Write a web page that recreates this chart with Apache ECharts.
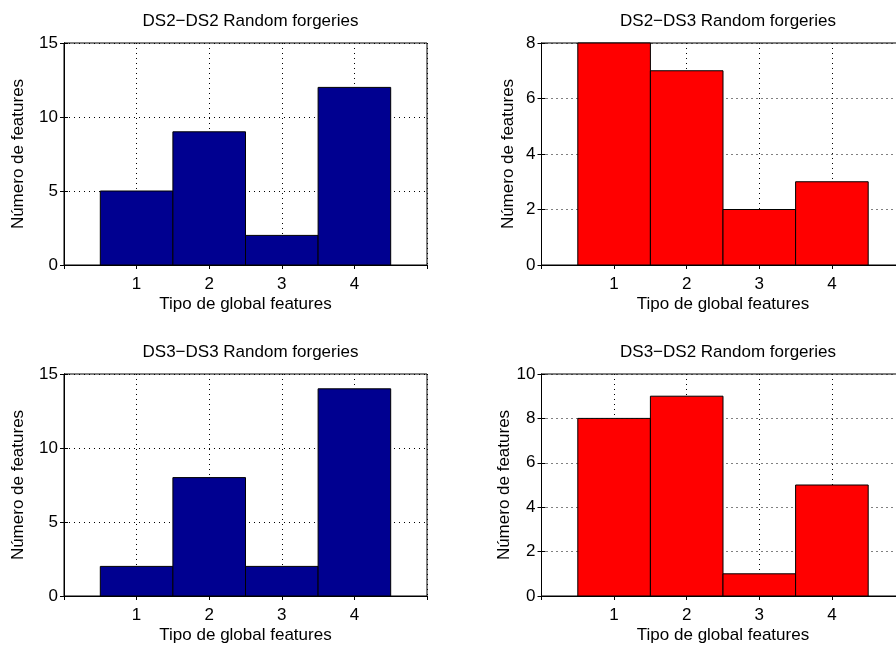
<!DOCTYPE html>
<html>
<head>
<meta charset="utf-8">
<script src="https://cdn.jsdelivr.net/npm/echarts@6/dist/echarts.min.js"></script>
<style>
  html, body { margin: 0; padding: 0; background: #fff; }
  #chart { width: 896px; height: 646px; }
</style>
</head>
<body>
<div id="chart"></div>
<script>
// tipo de global features (x)
var categories = [1, 2, 3, 4];

// número de features per panel
var ds2ds2 = [5, 9, 2, 12];
var ds2ds3 = [8, 7, 2, 3];
var ds3ds3 = [2, 8, 2, 14];
var ds3ds2 = [8, 9, 1, 5];

var titles = ['DS2\u2212DS2 Random forgeries', 'DS2\u2212DS3 Random forgeries',
              'DS3\u2212DS3 Random forgeries', 'DS3\u2212DS2 Random forgeries'];
var yMax = [15, 8, 15, 10];
var yStep = [5, 2, 5, 2];
var barColors = ['#000090', '#ff0000', '#000090', '#ff0000'];
var panelData = [ds2ds2, ds2ds3, ds3ds3, ds3ds2];

var FONT = 'Liberation Sans, Arial, Helvetica, sans-serif';
var FS = 17;
var boxes = [
  {left: 64, top: 43, nameGap: 37},
  {left: 541.5, top: 43, nameGap: 25},
  {left: 64, top: 374, nameGap: 37},
  {left: 541.5, top: 374, nameGap: 25}
];
var W = 363, H = 222;

var grid = [], xAxis = [], yAxis = [], series = [], title = [];

var dotted = {show: true, lineStyle: {color: '#000', type: [1, 4], width: 1}};

boxes.forEach(function (b, i) {
  grid.push({left: b.left, top: b.top, width: W, height: H,
    outerBoundsMode: 'none',
    show: true, borderColor: '#000', borderWidth: 1, backgroundColor: '#fff'});

  title.push({
    text: titles[i],
    left: b.left + W / 2, top: b.top - 35, textAlign: 'center',
    textStyle: {fontFamily: FONT, fontSize: FS, fontWeight: 'normal', color: '#000'}
  });

  // bottom x axis with labels
  xAxis.push({
    type: 'value', gridIndex: i, min: 0, max: 5, interval: 1,
    position: 'bottom',
    name: 'Tipo de global features', nameLocation: 'middle', nameGap: 31,
    nameTextStyle: {fontFamily: FONT, fontSize: FS, color: '#000'},
    axisLine: {show: true, lineStyle: {color: '#000', width: 1}},
    axisTick: {show: true, inside: true, length: 4, lineStyle: {color: '#000'}},
    axisLabel: {fontFamily: FONT, fontSize: FS, color: '#000', margin: 11,
      showMinLabel: false, showMaxLabel: false},
    splitLine: dotted
  });
  // top x axis: ticks only (box)
  xAxis.push({
    type: 'value', gridIndex: i, min: 0, max: 5, interval: 1,
    position: 'top',
    axisLine: {show: true, lineStyle: {color: '#000', width: 1}},
    axisTick: {show: true, inside: true, length: 4, lineStyle: {color: '#000'}},
    axisLabel: {show: false}, splitLine: {show: false}
  });

  yAxis.push({
    type: 'value', gridIndex: i, min: 0, max: yMax[i], interval: yStep[i],
    position: 'left',
    name: 'Número de features', nameLocation: 'middle', nameGap: b.nameGap,
    nameTextStyle: {fontFamily: FONT, fontSize: FS, color: '#000'},
    axisLine: {show: true, lineStyle: {color: '#000', width: 1}},
    axisTick: {show: true, inside: true, length: 4, lineStyle: {color: '#000'}},
    axisLabel: {fontFamily: FONT, fontSize: FS, color: '#000', margin: 6},
    splitLine: dotted
  });
  yAxis.push({
    type: 'value', gridIndex: i, min: 0, max: yMax[i], interval: yStep[i],
    position: 'right',
    axisLine: {show: true, lineStyle: {color: '#000', width: 1}},
    axisTick: {show: true, inside: true, length: 4, lineStyle: {color: '#000'}},
    axisLabel: {show: false}, splitLine: {show: false}
  });

  series.push({
    type: 'custom',
    xAxisIndex: i * 2, yAxisIndex: i * 2,
    data: categories.map(function (c, k) { return [c, panelData[i][k]]; }),
    renderItem: function (params, api) {
      var x = api.value(0), y = api.value(1);
      var p0 = api.coord([x - 0.5, 0]);
      var p1 = api.coord([x + 0.5, y]);
      return {
        type: 'rect',
        shape: {x: p0[0], y: p1[1], width: p1[0] - p0[0], height: p0[1] - p1[1]},
        style: {fill: barColors[i], stroke: '#000', lineWidth: 1}
      };
    },
    z: 3
  });
});

var chart = echarts.init(document.getElementById('chart'), null, {renderer: 'canvas'});
chart.setOption({
  animation: false,
  backgroundColor: '#fff',
  title: title,
  grid: grid,
  xAxis: xAxis,
  yAxis: yAxis,
  series: series
});
</script>
</body>
</html>
